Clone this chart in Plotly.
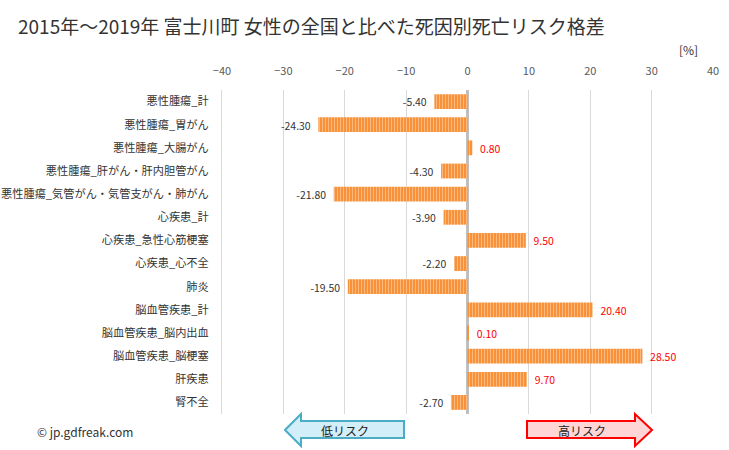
import plotly.graph_objects as go

categories = ["悪性腫瘍_計", "悪性腫瘍_胃がん", "悪性腫瘍_大腸がん", "悪性腫瘍_肝がん・肝内胆管がん",
              "悪性腫瘍_気管がん・気管支がん・肺がん", "心疾患_計", "心疾患_急性心筋梗塞", "心疾患_心不全",
              "肺炎", "脳血管疾患_計", "脳血管疾患_脳内出血", "脳血管疾患_脳梗塞", "肝疾患", "腎不全"]
values = [-5.4, -24.3, 0.8, -4.3, -21.8, -3.9, 9.5, -2.2, -19.5, 20.4, 0.1, 28.5, 9.7, -2.7]
x_ticks = [-40, -30, -20, -10, 0, 10, 20, 30, 40]

FONT = "Noto Sans CJK JP"
NB = "\u00a0"
label_colors = ["#FF0000" if v > 0 else "#333333" for v in values]
labels = [(NB * 2 + f"{v:.2f}") if v > 0 else (f"{v:.2f}" + NB * 2) for v in values]

fig = go.Figure(go.Bar(
    x=values, y=categories, orientation="h", width=0.64,
    marker=dict(color="#F79646", line=dict(width=0),
                pattern=dict(shape="|", fillmode="overlay", bgcolor="#F7923A",
                             fgcolor="#FFE0C4", size=3, solidity=0.33)),
    text=labels, textposition="outside", cliponaxis=False,
    textfont=dict(family=FONT, size=12, color=label_colors),
    hoverinfo="skip",
))

L, R, T, B = 222, 16, 90, 36
W, H = 729, 450
pw, ph = W - L - R, H - T - B

def px(X):
    return (X - L) / pw

def py(Y):
    return (H - B - Y) / ph

def path(points):
    s = "M " + " L ".join(f"{px(a)},{py(b)}" for a, b in points) + " Z"
    return s

blue = [(285, 430), (301, 414), (301, 421), (404, 421), (404, 438), (301, 438), (301, 446)]
red = [(652, 430), (635, 414), (635, 421), (527, 421), (527, 438), (635, 438), (635, 446)]

def note(text, X, Y, size=12, xanchor="center", color="#333333"):
    return dict(text=text, xref="paper", yref="paper", x=px(X), y=py(Y),
                xanchor=xanchor, yanchor="middle", showarrow=False,
                font=dict(family=FONT, size=size, color=color))

fig.update_layout(
    width=W, height=H,
    margin=dict(l=L, r=R, t=T, b=B),
    paper_bgcolor="white", plot_bgcolor="white",
    showlegend=False,
    font=dict(family=FONT, color="#333333"),
    title=dict(text="2015年～2019年 富士川町 女性の全国と比べた死因別死亡リスク格差",
               x=18 / W, xanchor="left", y=1 - 27 / H, yanchor="middle",
               pad=dict(l=0, r=0, t=0, b=0),
               font=dict(family=FONT, size=19, color="#333333")),
    xaxis=dict(range=[-40, 40], side="top", tickvals=x_ticks, automargin=False,
               showgrid=True, gridcolor="#D9D9D9", gridwidth=1,
               zeroline=True, zerolinecolor="#BFBFBF", zerolinewidth=2.5,
               ticks="outside", ticklen=10, tickcolor="rgba(0,0,0,0)",
               tickfont=dict(family=FONT, size=11, color="#595959"),
               fixedrange=True),
    yaxis=dict(autorange="reversed", showgrid=False, showline=True, linecolor="#D9D9D9",
               automargin=False, fixedrange=True,
               linewidth=1, ticks="outside", ticklen=10, tickcolor="rgba(0,0,0,0)",
               tickfont=dict(family=FONT, size=11.2, color="#333333")),
    shapes=[
        dict(type="path", xref="paper", yref="paper", path=path(blue),
             fillcolor="#D2EFF9", line=dict(color="#4BACC6", width=2)),
        dict(type="path", xref="paper", yref="paper", path=path(red),
             fillcolor="#FFD5D5", line=dict(color="#FF0000", width=2)),
    ],
    annotations=[
        note("[%]", 688, 50),
        note("© jp.gdfreak.com", 35, 431, xanchor="left"),
        note("低リスク", 345, 430, color="#222222"),
        note("高リスク", 582, 430, color="#222222"),
    ],
)

fig.write_html("out.html", config={"displayModeBar": False},
               post_script="document.body.style.margin='0';document.body.style.padding='0';")
